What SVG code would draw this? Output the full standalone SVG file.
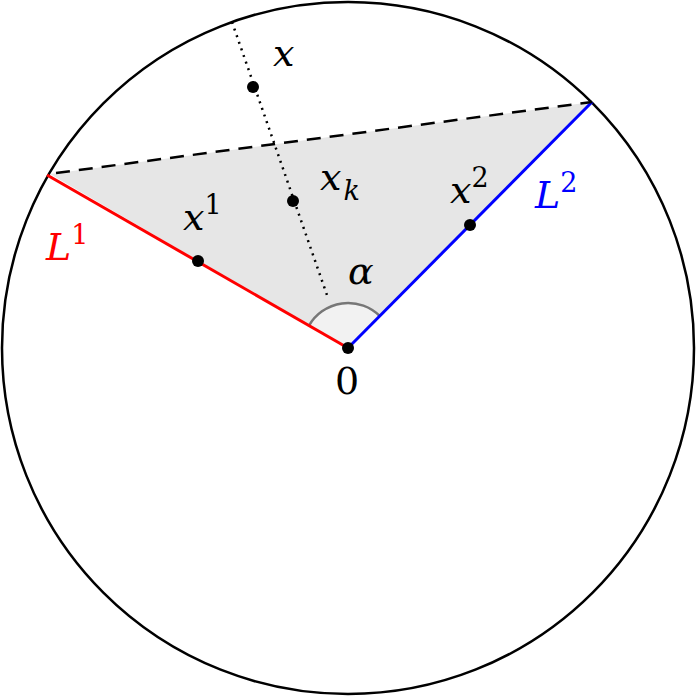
<svg xmlns="http://www.w3.org/2000/svg" width="696" height="696" viewBox="0 0 696 696">
<style>
text,tspan{font-family:"DejaVu Serif","Liberation Serif",serif}
.m{font-style:italic;font-size:38px}
.s{font-size:27px}
.pt{fill:#000}
</style>
<rect width="696" height="696" fill="#fff"/>
<g id="shapes">
<circle cx="348" cy="348" r="346" fill="none" stroke="#000" stroke-width="2.5"/>
<polygon points="348,348 50,174 592,102" fill="#e6e6e6"/>
<path d="M348,348 L309,325.6 A45,45 0 0 1 379.7,316 Z" fill="#f2f2f2"/>
<path d="M309,325.6 A45,45 0 0 1 379.7,316" fill="none" stroke="#777" stroke-width="2.5"/>
</g>
<g id="connectors">
<line x1="348" y1="348" x2="47" y2="175" stroke="#f00" stroke-width="3"/>
<line x1="348" y1="348" x2="592" y2="102" stroke="#00f" stroke-width="3"/>
<line x1="56" y1="173" x2="592" y2="102" stroke="#000" stroke-width="2.5" stroke-dasharray="14,9"/>
<line x1="232" y1="22" x2="328" y2="298" stroke="#000" stroke-width="2.5" stroke-dasharray="2,5"/>
</g>
<g id="points">
<circle class="pt" cx="253" cy="87" r="6"/>
<circle class="pt" cx="293" cy="201" r="6"/>
<circle class="pt" cx="198" cy="261" r="6"/>
<circle class="pt" cx="470" cy="225" r="6"/>
<circle class="pt" cx="348" cy="348" r="6"/>
</g>
<g id="labels">
<text class="m" x="273" y="66">x</text>
<text class="m" x="320" y="190">x<tspan class="s" dx="2" dy="10">k</tspan></text>
<text class="m" x="183" y="230">x<tspan class="s" style="font-style:normal" dy="-16">1</tspan></text>
<text class="m" x="450" y="203">x<tspan class="s" style="font-style:normal" dy="-16">2</tspan></text>
<text class="m" x="46" y="260" fill="#f00">L<tspan class="s" style="font-style:normal" dy="-16">1</tspan></text>
<text class="m" x="535" y="208" fill="#00f">L<tspan class="s" style="font-style:normal" dy="-16">2</tspan></text>
<text class="m" x="348" y="284">α</text>
<text class="m" x="335" y="394" style="font-style:normal">0</text>
</g>
</svg>
